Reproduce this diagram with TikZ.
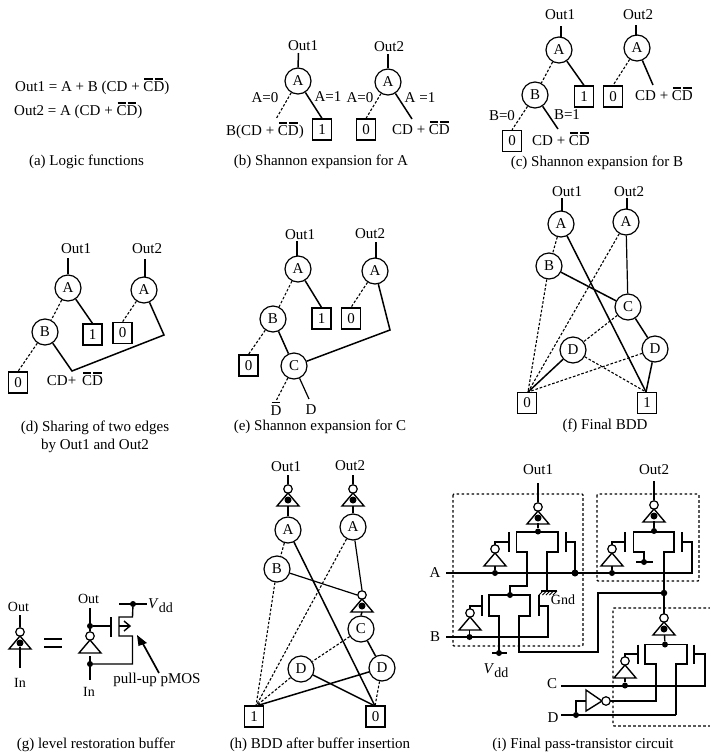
\documentclass[tikz,border=0pt]{standalone}
\usepackage{fontspec}
\setmainfont{Liberation Serif}
\newcommand{\obar}[1]{\leavevmode\setbox0\hbox{#1}\rlap{\hspace{1pt}\smash{\raise 12pt\hbox{\rule{\dimexpr\wd0-2pt\relax}{1.5pt}}}}\box0 }
\newcommand{\CDbar}{\obar{C}\obar{D}}
\newcommand{\Vdd}{\textit{V}\raisebox{-4pt}{\fontsize{14}{15}\selectfont dd}}
\tikzset{
  txt/.style={inner sep=0pt,font=\fontsize{15}{18}\selectfont,align=center},
  bddnode/.style={circle,draw,line width=1.2pt,minimum size=26pt,inner sep=0pt,font=\fontsize{15}{18}\selectfont},
  bddbox/.style={rectangle,draw,line width=1.2pt,minimum width=19pt,minimum height=21pt,inner sep=0pt,font=\fontsize{15}{18}\selectfont},
  sol/.style={line width=1.5pt},
  solthin/.style={line width=1.2pt},
  dashline/.style={line width=1.1pt,dash pattern=on 2.6pt off 1.8pt},
  wire/.style={line width=1.4pt},
  region/.style={line width=1.1pt,dash pattern=on 2.6pt off 2.4pt,rounded corners=1pt},
  dotn/.style={circle,fill=black,inner sep=0pt,minimum size=6pt},
  bubble/.style={circle,draw,fill=white,line width=1.2pt,inner sep=0pt,minimum size=8.5pt},
}
% inverter symbol: bubble at (x,y), triangle below it
\newcommand{\invup}[3]{\node[bubble] (#1) at (#2,#3) {};
  \draw[line width=1.4pt,line join=miter] (#2,#3+4) -- (#2-11,#3+17) -- (#2+11,#3+17) -- cycle;}
\newcommand{\bufup}[3]{\invup{#1}{#2}{#3}\node[dotn,minimum size=7pt] (#1d) at (#2,#3+11) {};}
\begin{document}
\begin{tikzpicture}[x=1pt,y=-1pt]
\useasboundingbox (0,0) rectangle (710,756);
% (a)
\node[txt,anchor=west] (aone) at (15,88) {Out1 = A + B (CD + \CDbar)};
\node[txt,anchor=west] (atwo) at (14,112) {Out2 = A (CD + \CDbar)};
\node[txt] (acap) at (86.5,162) {(a) Logic functions};
% (b)
\node[txt] (bo1) at (303,46) {Out1};
\node[txt] (bo2) at (389,47) {Out2};
\node[bddnode] (bA1) at (298,81) {A};
\node[bddnode] (bA2) at (388,82) {A};
\node[bddbox] (bb1) at (322,129.5) {1};
\node[bddbox] (bb0) at (366,129.5) {0};
\node[txt] (bf1) at (265,132) {B(CD + \CDbar)};
\node[txt] (bf2) at (421,130) {CD + \CDbar};
\coordinate (bd1) at (276,119);
\coordinate (bs2) at (412,119);
\draw[sol] (298.5,53) -- (bA1.north);
\draw[sol] (388,54) -- (bA2.north);
\draw[dashline] (bA1) -- (bd1);
\draw[sol] (bA1) -- (bb1.north);
\draw[dashline] (bA2) -- (bb0.north);
\draw[sol] (bA2) -- (bs2);
\node[txt] at (265,98) {A=0};
\node[txt] at (328,97) {A=1};
\node[txt] at (360,98) {A=0};
\node[txt] at (420,98) {A =1};
\node[txt] (bcap) at (321,162) {(b) Shannon expansion for A};
% (c)
\node[txt] (co1) at (560,15) {Out1};
\node[txt] (co2) at (638,15) {Out2};
\node[bddnode] (cA1) at (559,50) {A};
\node[bddnode] (cA2) at (637,48) {A};
\node[bddnode] (cB) at (535,95) {B};
\node[bddbox] (cb1) at (584,96.5) {1};
\node[bddbox] (cb0) at (613,96.5) {0};
\node[bddbox] (cb00) at (512,141) {0};
\node[txt] (cf1) at (664,96) {CD + \CDbar};
\node[txt] (cf2) at (561,141) {CD + \CDbar};
\coordinate (cs1) at (653,85);
\coordinate (cs2) at (558,129);
\draw[sol] (561,26) -- (561,37.5);
\draw[sol] (636,25) -- (636,35.5);
\draw[dashline] (cA1) -- (cB);
\draw[sol] (cA1) -- (cb1.north);
\draw[dashline] (cA2) -- (cb0.north);
\draw[sol] (cA2) -- (cs1);
\draw[dashline] (cB) -- (cb00.north);
\draw[sol] (cB) -- (cs2);
\node[txt] at (502,116) {B=0};
\node[txt] at (567,115) {B=1};
\node[txt] (ccap) at (597,163) {(c) Shannon expansion for B};
% (d)
\node[txt] (do1) at (76,249) {Out1};
\node[txt] (do2) at (147,249) {Out2};
\node[bddnode] (dA1) at (68,288) {A};
\node[bddnode] (dA2) at (144,290) {A};
\node[bddnode] (dB) at (45,332) {B};
\node[bddbox] (db1) at (92.5,334.5) {1};
\node[bddbox] (db0) at (122.5,333) {0};
\node[bddbox] (db00) at (18,382.5) {0};
\node[txt] (df) at (75,381) {CD+\hspace{6pt}\CDbar};
\coordinate (dj1) at (72,371);
\coordinate (dj2) at (164,335);
\draw[sol] (68,258) -- (dA1.north);
\draw[sol] (145,259) -- (145,277);
\draw[dashline] (dA1) -- (dB);
\draw[sol] (dA1) -- (db1.north);
\draw[dashline] (dA2) -- (db0.north);
\draw[dashline] (dB) -- (db00.north);
\draw[sol,line join=miter] (dA2) -- (dj2) -- (dj1) -- (dB);
\node[txt] (dcap) at (95,437) {(d) Sharing of two edges\\by Out1 and Out2};
% (e)
\node[txt] (eo1) at (300,235) {Out1};
\node[txt] (eo2) at (370,234) {Out2};
\node[bddnode] (eA1) at (298,269) {A};
\node[bddnode] (eA2) at (375,271) {A};
\node[bddnode] (eB) at (273,319) {B};
\node[bddnode] (eC) at (294,366) {C};
\node[bddbox] (eb1) at (321.5,318.5) {1};
\node[bddbox] (eb0) at (351,318.5) {0};
\node[bddbox] (eb00) at (248.5,365.5) {0};
\coordinate (ej) at (390,330);
\coordinate (edb) at (276,401);
\coordinate (edd) at (309,399);
\draw[sol] (297,241) -- (297,256);
\draw[sol] (376,242) -- (376,258);
\draw[dashline] (eA1) -- (eB);
\draw[sol] (eA1) -- (eb1.north);
\draw[dashline] (eA2) -- (eb0.north);
\draw[dashline] (eB) -- (eb00.north);
\draw[sol] (eB) -- (eC);
\draw[sol,line join=miter] (eA2) -- (ej) -- (eC);
\draw[dashline] (eC) -- (edb);
\draw[solthin] (eC) -- (edd);
\node[txt] (edn) at (276,410.5) {\obar{D}};
\node[txt] (edp) at (311,410) {D};
\node[txt] (ecap) at (320,426.5) {(e) Shannon expansion for C};
% (f)
\node[txt] (fo1) at (567,192) {Out1};
\node[txt] (fo2) at (629,192) {Out2};
\node[bddnode] (fA1) at (561,224) {A};
\node[bddnode] (fA2) at (626,222) {A};
\node[bddnode] (fB) at (549,266) {B};
\node[bddnode] (fC) at (628,307) {C};
\node[bddnode] (fD1) at (573,350) {D};
\node[bddnode] (fD2) at (655,349) {D};
\node[bddbox] (fb0) at (527,403) {0};
\node[bddbox] (fb1) at (647,403) {1};
\coordinate (fz) at (528,392);
\coordinate (fo) at (646,392);
\draw[sol] (562,198) -- (562,211);
\draw[sol] (627,198) -- (627,209);
\draw[dashline] (fA1) -- (fB);
\draw[sol] (fA1) -- (fo);
\draw[dashline] (fA2) -- (fz);
\draw[solthin] (fA2) -- (fC);
\draw[dashline] (fB) -- (fz);
\draw[sol] (fB) -- (fC);
\draw[dashline] (fC) -- (fD1);
\draw[sol] (fC) -- (fD2);
\draw[sol] (fD1) -- (fz);
\draw[dashline] (fD1) -- (fo);
\draw[dashline] (fD2) -- (fz);
\draw[sol] (fD2) -- (fo);
\node[txt] (fcap) at (605,426) {(f) Final BDD};
% (g)
\node[txt] (go) at (18.5,606.5) {\fontsize{14}{15}\selectfont Out};
\node[txt] (gi) at (20,683) {\fontsize{14}{15}\selectfont In};
\bufup{gb}{20}{632}
\draw[wire] (20,615) -- (gb.north);
\draw[wire] (gbd) -- (20,668);
\draw[line width=1.6pt] (44,639) -- (62,639);
\draw[line width=1.6pt] (44,647) -- (62,647);
\node[txt] (go2) at (88.5,598.5) {\fontsize{14}{15}\selectfont Out};
\node[txt] (gi2) at (89,692) {\fontsize{14}{15}\selectfont In};
\invup{gbb}{90}{636}
\node[dotn] (gt) at (90,626) {};
\node[dotn] (gl) at (90,664) {};
\node[dotn] (gv) at (133,604) {};
\draw[wire] (90,608) -- (gbb.north);
\draw[wire] (90,656) -- (90,680);
\draw[wire] (gt) -- (111,626);
\draw[wire] (111,617) -- (111,637);
\draw[wire] (119,604) -- (147,604);
\draw[wire,line join=miter] (gv) -- (132.5,617) -- (119,617) -- (119,636) -- (132.5,636) -- (132.5,664) -- (gl);
\draw[wire] (119,626) -- (130,626);
\draw[wire] (124,621) -- (130,626) -- (124,631);
\node[txt,anchor=west] (gvdd) at (148,606) {\Vdd};
\fill (137,635) -- (147,643) -- (138.5,646) -- cycle;
\draw[line width=1.7pt] (159,673) -- (142,642);
\node[txt] (gpm) at (157,680) {pull-up pMOS};
\node[txt] (gcap) at (96,745) {(g) level restoration buffer};
% (h)
\node[txt] (ho1) at (286,467) {Out1};
\node[txt] (ho2) at (350,466) {Out2};
\bufup{hb1}{288}{489}
\bufup{hb2}{353}{489}
\bufup{hb3}{362}{595}
\node[bddnode] (hA1) at (288,530) {A};
\node[bddnode] (hA2) at (353,527) {A};
\node[bddnode] (hB) at (277,569) {B};
\node[bddnode] (hC) at (361,629) {C};
\node[bddnode] (hD1) at (301,669) {D};
\node[bddnode] (hD2) at (382,668) {D};
\node[bddbox] (hb1x) at (254,716.5) {1};
\node[bddbox] (hb0x) at (375.5,716.5) {0};
\coordinate (hi) at (256,706);
\coordinate (hz) at (375,706);
\draw[sol] (288,475) -- (hb1.north);
\draw[sol] (353,475) -- (hb2.north);
\draw[sol] (288,506) -- (hA1.north);
\draw[sol] (353,506) -- (hA2.north);
\draw[sol] (362,612) -- (hC.north);
\draw[dashline] (hA1) -- (hB);
\draw[sol] (hA1) -- (hz);
\draw[dashline] (hA2) -- (hi);
\draw[solthin] (hA2) -- (hb3.north);
\draw[dashline] (hB) -- (hi);
\draw[solthin] (hB) -- (hb3.west);
\draw[dashline] (hC) -- (hD1);
\draw[sol] (hC) -- (hD2);
\draw[dashline] (hD1) -- (hi);
\draw[sol] (hD1) -- (hz);
\draw[sol] (hD2) -- (hi);
\draw[dashline] (hD2) -- (hz);
\node[txt] (hcap) at (320,745) {(h) BDD after buffer insertion};
% (i) regions
\draw[region] (453,494) rectangle (583,646);
\draw[region] (597,494) rectangle (699,581);
\draw[region] (711,608) -- (613,608) -- (613,726) -- (711,726);
% (i) labels
\node[txt] (io1) at (538,470) {Out1};
\node[txt] (io2) at (654,470) {Out2};
\node[txt] (iA) at (435,573) {A};
\node[txt] (iB) at (435,637) {B};
\node[txt] (iC) at (552,684) {C};
\node[txt] (iD) at (553,718) {D};
\node[txt] (iG) at (563,600) {\fontsize{14}{15}\selectfont Gnd};
\node[txt] (iV) at (496,671) {\Vdd};
\node[txt] (icap) at (583,745) {(i) Final pass-transistor circuit};
% (i) signal lines
\draw[wire,line join=miter] (446,573) -- (692,573) -- (692,542) -- (682,542);
\draw[wire,line join=miter] (446,637) -- (548,637) -- (548,606) -- (539,606);
\draw[wire,line join=miter] (561,686) -- (705,686) -- (705,654) -- (694,654);
\draw[wire] (561,715) -- (676,715);
% (i) upper-left mux
\bufup{ia}{538}{507}
\draw[wire] (538,483) -- (ia.north);
\node[dotn] (ia1) at (538,531.5) {};
\draw[wire] (538,523) -- (ia1);
\draw[wire,line join=miter] (510,595) -- (510,586) -- (527,586) -- (527,552) -- (516.5,552) -- (516.5,532) -- (558,532) -- (558,552) -- (547,552) -- (547,591);
\draw[wire] (509,532) -- (509,552);
\draw[wire] (566,532) -- (566,552);
\draw[wire,line join=miter] (509,542) -- (495,542) -- (495,546);
\invup{iai}{495}{549}
\node[dotn] (ia2) at (495,573) {};
\draw[wire] (495,566) -- (ia2);
\draw[wire,line join=miter] (566,542) -- (575,542) -- (575,573);
\node[dotn,minimum size=7pt] (ia3) at (575,573) {};
% Gnd
\draw[wire] (541,591) -- (557,591);
\foreach \q in {543,546.5,550,553.5,557} \draw[line width=0.8pt] (\q,591) -- (\q-4,595);
% (i) lower-left mux
\node[dotn] (ib1) at (510,595) {};
\draw[wire,line join=miter] (499,653) -- (499,616) -- (489,616) -- (489,595) -- (530,595) -- (530,616) -- (519,616) -- (519,652) -- (598,652) -- (598,593) -- (664,593);
\draw[wire] (482,595) -- (482,616);
\draw[wire] (539,595) -- (539,616);
\draw[wire,line join=miter] (482,606) -- (470,606) -- (470,610);
\invup{ibi}{470}{613}
\node[dotn] (ib2) at (469.5,637) {};
\draw[wire] (469.5,630) -- (ib2);
\node[dotn] (ib3) at (499,653) {};
\draw[wire] (492,653) -- (507,653);
% (i) upper-right mux
\bufup{ic}{654}{505}
\draw[wire] (654,481) -- (ic.north);
\node[dotn] (ic1) at (654,531) {};
\draw[wire] (654,521) -- (ic1);
\draw[wire,line join=miter] (644,562) -- (644,552) -- (633.5,552) -- (633.5,532) -- (674,532) -- (674,552) -- (664,552) -- (664,614);
\draw[wire] (625,532) -- (625,552);
\draw[wire] (682,532) -- (682,552);
\draw[wire,line join=miter] (625,542) -- (612,542) -- (612,546);
\invup{ici}{612}{549}
\node[dotn] (ic2) at (612,573) {};
\draw[wire] (612,566) -- (ic2);
\node[dotn] (ic3) at (644,562) {};
\draw[wire] (636,562) -- (653,562);
\node[dotn,minimum size=6.5pt] (ij) at (664,593) {};
% (i) lower-right mux
\bufup{id}{664}{618}
\node[dotn] (id1) at (665,644.5) {};
\draw[wire] (664.5,635) -- (id1);
\draw[wire,line join=miter] (610,701) -- (656,701) -- (656,664) -- (645,664) -- (645,644.5) -- (687,644.5) -- (687,664) -- (676,664) -- (676,715);
\draw[wire] (638,644.5) -- (638,664);
\draw[wire] (694,644.5) -- (694,664);
\draw[wire,line join=miter] (638,654) -- (625,654) -- (625,658);
\invup{idi}{625}{661}
\node[dotn] (id2) at (625,685.5) {};
\draw[wire] (625,678) -- (id2);
\node[dotn] (id3) at (576,715) {};
\draw[wire,line join=miter] (id3) -- (576,701) -- (586,701);
\draw[line width=1.4pt,line join=miter] (586,690) -- (602,701) -- (586,711) -- cycle;
\node[bubble] (idb) at (606,701) {};
\end{tikzpicture}
\end{document}
